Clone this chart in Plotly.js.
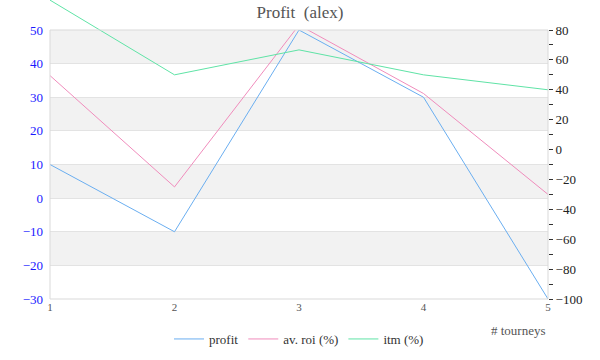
<!DOCTYPE html>
<html>
<head>
<meta charset="utf-8">
<script src="https://cdn.plot.ly/plotly-3.0.1.min.js"></script>
<style>html,body{margin:0;padding:0;background:#fff;}#chart{width:600px;height:360px;}</style>
</head>
<body>
<div id="chart"></div>
<script>
const tourneys = [1, 2, 3, 4, 5];
const profit = [10, -10, 50, 30, -30];
const avRoi = [49.5, -25, 83.3, 37.5, -30];
const itm = [100, 50, 66.7, 50, 40];
const seriesNames = ['profit', 'av. roi (%)', 'itm (%)'];
const seriesColors = ['#6aaef0', '#f08cbc', '#5fe3a6'];
const leftRange = [-30, 50];
const rightRange = [-100, 80];

const FONT = 'Liberation Serif';
const plotTop = 30, plotBottom = 299, H = 360;
const domTop = (plotBottom - plotTop) / plotBottom;
const pxPerRight = (plotBottom - plotTop) / (rightRange[1] - rightRange[0]);
const y3Top = rightRange[0] + plotBottom / pxPerRight;

const traces = [
  {x: tourneys, y: profit, name: seriesNames[0], type: 'scatter', mode: 'lines',
   line: {color: seriesColors[0], width: 1}, yaxis: 'y'},
  {x: tourneys, y: avRoi, name: seriesNames[1], type: 'scatter', mode: 'lines',
   line: {color: seriesColors[1], width: 1}, yaxis: 'y2'},
  {x: tourneys, y: itm, name: seriesNames[2], type: 'scatter', mode: 'lines',
   line: {color: seriesColors[2], width: 1}, yaxis: 'y3'}
];

const shapes = [];
for (let v = leftRange[1] - 10; v > leftRange[0]; v -= 20) {
  shapes.push({type: 'rect', xref: 'paper', yref: 'y', x0: 0, x1: 1, y0: v, y1: v + 10,
    fillcolor: '#f2f2f2', line: {width: 0}, layer: 'below'});
}
shapes.push({type: 'rect', xref: 'paper', yref: 'y domain', x0: 0, x1: 1, y0: 0, y1: 1,
  fillcolor: 'rgba(0,0,0,0)', line: {color: '#d9d9d9', width: 1}, layer: 'above'});

const layout = {
  width: 600, height: 360,
  margin: {l: 50, r: 52, t: 0, b: H - plotBottom},
  paper_bgcolor: '#ffffff', plot_bgcolor: 'rgba(0,0,0,0)',
  font: {family: FONT, color: '#333'},
  title: {text: 'Profit  (alex)', font: {family: FONT, size: 17, color: '#555'},
    x: 0.5, xanchor: 'center', y: 1 - 12 / H, yanchor: 'middle', yref: 'container'},
  showlegend: true,
  legend: {orientation: 'h', x: 0.5, xanchor: 'center', y: -(40 / plotBottom), yanchor: 'middle',
    font: {family: FONT, size: 13, color: '#333'}, itemwidth: 30},
  xaxis: {range: [1, 5], tickvals: tourneys, showgrid: false, zeroline: false,
    showline: false, ticks: '', tickfont: {family: FONT, size: 11, color: '#555'},
    anchor: 'y'},
  yaxis: {domain: [0, domTop], range: leftRange, dtick: 10, tick0: 0,
    showgrid: true, gridcolor: '#e3e3e3', gridwidth: 1, zeroline: false,
    showline: false, ticks: '', ticklabelstandoff: 6,
    tickfont: {family: FONT, size: 13, color: '#1a1aff'}},
  yaxis2: {overlaying: 'y', side: 'right', range: rightRange, dtick: 20, tick0: 0,
    showgrid: false, zeroline: false, showline: false,
    ticks: 'outside', ticklen: 4, tickcolor: '#333', tickwidth: 1,
    minor: {dtick: 10, ticks: 'outside', ticklen: 4, tickcolor: '#333', showgrid: false},
    tickfont: {family: FONT, size: 13, color: '#222'}},
  yaxis3: {domain: [0, 1], range: [rightRange[0], y3Top], anchor: 'x', visible: false,
    showgrid: false, zeroline: false},
  shapes: shapes,
  annotations: [{text: '# tourneys', xref: 'paper', yref: 'paper', x: 1, xanchor: 'right',
    y: -(31 / plotBottom), yanchor: 'middle', showarrow: false,
    font: {family: FONT, size: 13, color: '#555'}}]
};

Plotly.newPlot('chart', traces, layout, {displayModeBar: false, staticPlot: true});
</script>
</body>
</html>
